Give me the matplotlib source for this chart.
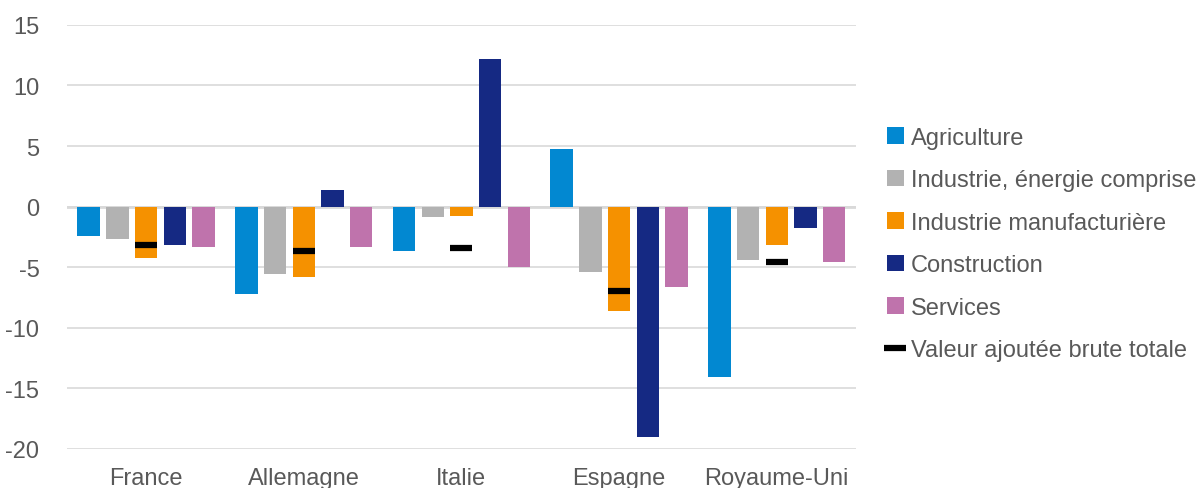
import numpy as np
import matplotlib
matplotlib.use("Agg")
import matplotlib.pyplot as plt

plt.rcParams['font.family'] = ['Liberation Sans', 'DejaVu Sans']
plt.rcParams['axes.unicode_minus'] = False

pays = ["France", "Allemagne", "Italie", "Espagne", "Royaume-Uni"]
agriculture = [-2.4, -7.2, -3.7, 4.75, -14.05]
industrie = [-2.7, -5.55, -0.83, -5.36, -4.4]
manufacturiere = [-4.26, -5.85, -0.74, -8.6, -3.16]
construction = [-3.2, 1.38, 12.19, -19.0, -1.76]
services = [-3.3, -3.3, -5.0, -6.65, -4.54]
vab_totale = [-3.2, -3.65, -3.43, -6.93, -4.54]

series = [
    ("Agriculture", agriculture, "#0288D1"),
    ("Industrie, énergie comprise", industrie, "#B2B2B2"),
    ("Industrie manufacturière", manufacturiere, "#F59100"),
    ("Construction", construction, "#152983"),
    ("Services", services, "#BF73AC"),
]

fig = plt.figure(figsize=(12, 4.89), dpi=100)
ax = fig.add_axes([0.056, 0.08, 0.657, 0.867])

x = np.arange(len(pays))
step = 0.182
width = 0.142
for i, (label, vals, col) in enumerate(series):
    ax.bar(x + (i - 2) * step, vals, width, color=col, label=label, zorder=2)

ax.plot(x, vab_totale, linestyle="none", marker="_", markersize=16,
        markeredgewidth=4.5, color="black", label="Valeur ajoutée brute totale", zorder=3)

ax.set_ylim(-20, 15)
ax.set_xlim(-0.5, 4.5)
ax.set_yticks(range(-20, 16, 5))
ax.set_xticks(x)
ax.set_xticklabels(pays)
ax.grid(axis="y", color="#D9D9D9", linewidth=1.2, zorder=0)
ax.axhline(0, color="#D9D9D9", linewidth=2, zorder=1)
for s in ax.spines.values():
    s.set_visible(False)
ax.tick_params(length=0, labelsize=17, colors="#595959")
ax.tick_params(axis="y", pad=20)
ax.tick_params(axis="x", pad=13)

handles, labels = ax.get_legend_handles_labels()
handles = handles[1:] + handles[:1]
labels = labels[1:] + labels[:1]
leg = ax.legend(handles, labels, loc="center left", bbox_to_anchor=(1.028, 0.483),
                frameon=False, fontsize=17, labelcolor="#595959", handlelength=0.7,
                handleheight=0.7, handletextpad=0.3, labelspacing=0.87, borderaxespad=0)

fig.savefig("out.png", dpi=100)
